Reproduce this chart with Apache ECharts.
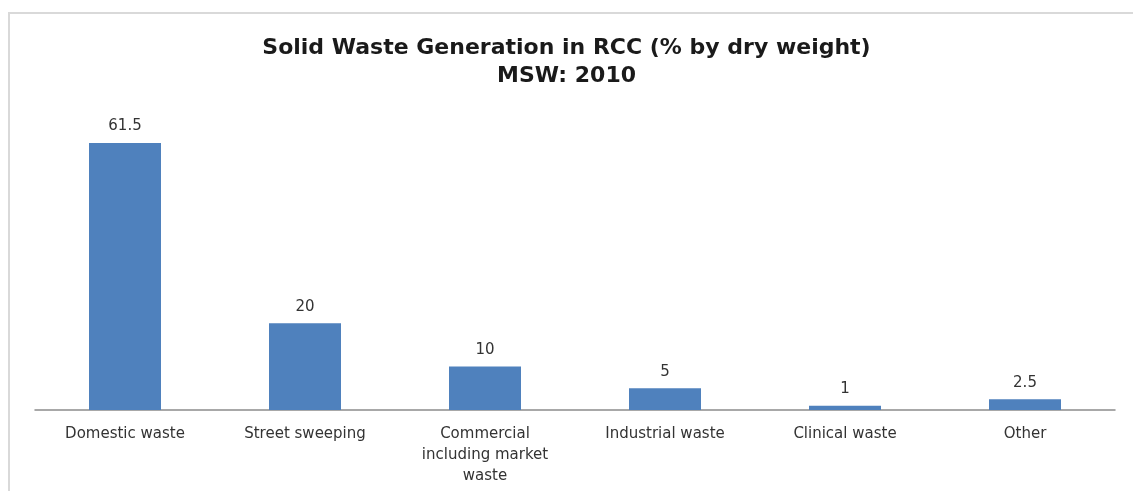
<!DOCTYPE html>
<html>
<head>
<meta charset="utf-8">
<script src="https://cdn.jsdelivr.net/npm/echarts@6/dist/echarts.min.js"></script>
<style>
  html, body { margin: 0; padding: 0; background: #fff; }
  #chart { width: 1133px; height: 491px; }
</style>
</head>
<body>
<div id="chart"></div>
<script>
// Municipal solid waste composition, RCC 2010 (% by dry weight)
const categories = [
  'Domestic waste',
  'Street sweeping',
  'Commercial\nincluding market\nwaste',
  'Industrial waste',
  'Clinical waste',
  'Other'
];
const shares = [61.5, 20, 10, 5, 1, 2.5];

const chart = echarts.init(document.getElementById('chart'), null, { renderer: 'canvas' });

chart.setOption({
  backgroundColor: '#ffffff',
  animation: false,
  graphic: [{
    type: 'rect',
    shape: { x: 9, y: 13, width: 1140, height: 500 },
    style: { fill: 'none', stroke: '#d9d9d9', lineWidth: 2 },
    silent: true,
    z: -1
  }],
  title: {
    text: 'Solid Waste Generation in RCC (% by dry weight)\nMSW: 2010',
    left: 'center',
    top: 29,
    textStyle: {
      fontFamily: 'DejaVu Sans',
      fontWeight: 'bold',
      fontSize: 22,
      lineHeight: 28,
      color: '#1a1a1a'
    }
  },
  grid: { left: 35, right: 18, top: 106, bottom: 81 },
  xAxis: {
    type: 'category',
    data: categories,
    axisLine: { lineStyle: { color: '#8c8c8c', width: 1.5 } },
    axisTick: { show: false },
    axisLabel: {
      interval: 0,
      margin: 14,
      fontFamily: 'DejaVu Sans',
      fontSize: 15,
      lineHeight: 21,
      color: '#333'
    }
  },
  yAxis: {
    type: 'value',
    min: 0,
    max: 70,
    show: false,
    splitLine: { show: false }
  },
  series: [{
    type: 'bar',
    data: shares,
    barWidth: 72,
    itemStyle: { color: '#4f81bd' },
    label: {
      show: true,
      position: 'top',
      distance: 9,
      fontFamily: 'DejaVu Sans',
      fontSize: 15,
      color: '#333'
    }
  }]
});
</script>
</body>
</html>
